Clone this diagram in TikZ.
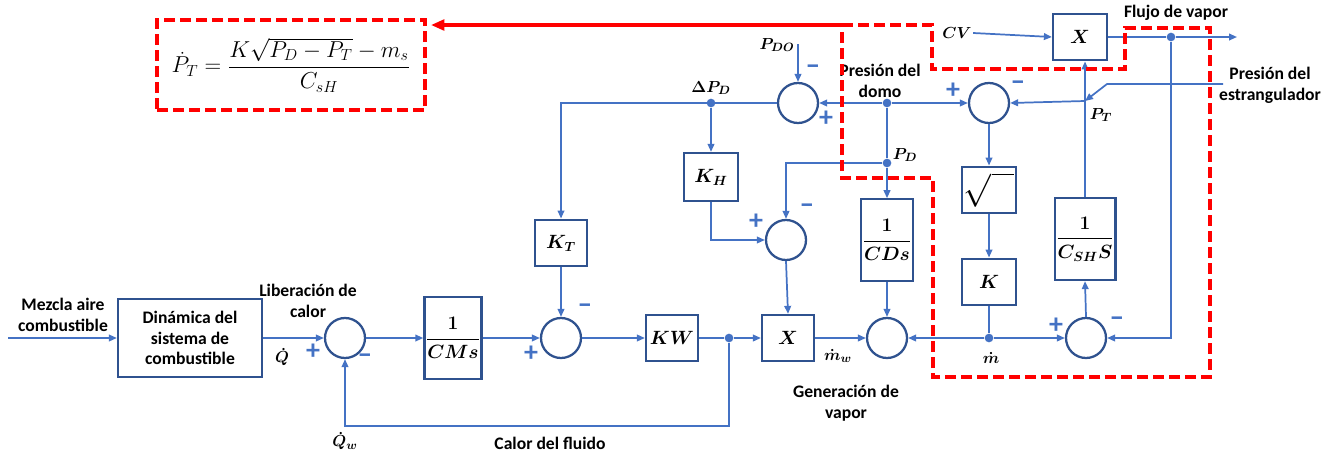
\documentclass[tikz,border=0pt]{standalone}
\usepackage{amsmath,amssymb}
\usepackage{fontspec}
\setmainfont{Carlito}
\usepackage{tikz}
\usetikzlibrary{arrows.meta,positioning,calc}
\definecolor{LineBlue}{RGB}{68,114,196}
\definecolor{BoxBlue}{RGB}{47,82,143}
\definecolor{DashRed}{RGB}{255,0,0}
\newcommand{\dsize}{\fontsize{13.2}{15.5}\selectfont}
\tikzset{
  blk/.style={draw=BoxBlue,line width=1.7pt,fill=white,font=\fontsize{13.8}{16}\selectfont\boldmath,align=center,inner sep=1pt},
  sumnode/.style={circle,draw=BoxBlue,line width=1.7pt,minimum size=30pt,inner sep=0pt},
  junc/.style={circle,fill=LineBlue,minimum size=6.5pt,inner sep=0pt},
  sig/.style={->,>={Triangle[length=6pt,width=5pt]},draw=LineBlue,line width=1.3pt},
  wire/.style={draw=LineBlue,line width=1.3pt},
  lbl/.style={font=\dsize\bfseries,align=center,inner sep=1pt},
  mlbl/.style={font=\dsize\boldmath,inner sep=1pt},
  plussign/.style={text=LineBlue,font=\fontsize{21}{21}\selectfont\bfseries,inner sep=0pt},
  minussign/.style={text=LineBlue,font=\fontsize{22}{22}\selectfont\bfseries,inner sep=0pt},
  reddash/.style={draw=DashRed,line width=3pt,dash pattern=on 8pt off 4pt},
  redarrow/.style={->,>={Triangle[length=10pt,width=8pt]},draw=DashRed,line width=2.4pt}
}
\begin{document}
\begin{tikzpicture}[x=0.75pt,y=-0.75pt]
\useasboundingbox (0,0) rectangle (1333,457);
% equation box
\node[reddash,minimum width=201pt,minimum height=67.5pt,font=\fontsize{17}{20}\selectfont] (eq) at (291,65) {$\dot{P}_T=\dfrac{K\sqrt{P_D-P_T}-m_s}{C_{sH}}$};
% main line
\node[blk,minimum width=108pt,minimum height=59pt,font=\dsize\bfseries] (fuel) at (190,338) {Dinámica del\\sistema de\\combustible};
\node[sumnode] (s1) at (345,338) {};
\node[blk,minimum width=39pt,minimum height=61.5pt] (cms) at (453,338) {$\dfrac{1}{CMs}$};
\node[sumnode] (s2) at (561,338) {};
\node[blk,minimum width=39pt,minimum height=35pt] (kt) at (561,243) {$K_T$};
\node[blk,minimum width=39pt,minimum height=34.5pt] (kw) at (672,338) {$KW$};
\node[junc] (jw) at (729,338) {};
\node[blk,minimum width=39pt,minimum height=34.5pt] (mx) at (788,338) {$X$};
\node[sumnode] (s3) at (887,338) {};
\node[blk,minimum width=38pt,minimum height=61pt] (cds) at (887,240) {$\dfrac{1}{CDs}$};
% drum pressure part
\node[sumnode] (s4) at (798,103) {};
\node[junc] (jdp) at (711,103) {};
\node[blk,minimum width=40pt,minimum height=36pt] (kh) at (711,177) {$K_H$};
\node[sumnode] (s5) at (786,240) {};
\node[junc] (jdomo) at (887,103) {};
\node[junc] (jpd) at (887,163) {};
% throttle part
\node[sumnode] (s6) at (989,103) {};
\node[blk,minimum width=40pt,minimum height=35pt,font=\fontsize{24}{24}\selectfont] (sq) at (989,190) {$\sqrt{\rule{0pt}{12pt}\rule{17pt}{0pt}}$};
\node[blk,minimum width=40pt,minimum height=35pt] (kk) at (989,282) {$K$};
\node[junc] (jm) at (989,338) {};
\node[sumnode] (s7) at (1086,338) {};
\node[blk,minimum width=40pt,minimum height=61.5pt] (csh) at (1085,239) {$\dfrac{1}{C_{SH}S}$};
\node[blk,minimum width=40.5pt,minimum height=35pt] (x2) at (1080,37) {$X$};
\node[junc] (jflow) at (1171,37) {};
\coordinate (fin) at (8,338);
\coordinate (fb) at (729,426);
\coordinate (pdin) at (798,44);
\coordinate (pt) at (1085,101);
\coordinate (est) at (1223,84);
\coordinate (estb) at (1107,84);
\coordinate (fout) at (1237,37);
% labels
\node[lbl] (lmix) at (63,315) {Mezcla aire\\combustible};
\node[lbl] (llib) at (308,301) {Liberación de\\calor};
\node[mlbl] (lq) at (282,357) {$\dot{Q}$};
\node[mlbl] (lqw) at (345,441) {$\dot{Q}_w$};
\node[lbl] (lcal) at (550,443) {Calor del fluido};
\node[lbl] (lgen) at (846,403) {Generación de\\vapor};
\node[mlbl] (lmw) at (838,356) {$\dot{m}_w$};
\node[mlbl] (ldp) at (711,88) {$\Delta P_D$};
\node[mlbl] (lpdo) at (777,45) {$P_{DO}$};
\node[lbl] (ldomo) at (880,81) {Presión del\\domo};
\node[mlbl] (lpd) at (905,155) {$P_D$};
\node[mlbl] (lpt) at (1101,115) {$P_T$};
\node[mlbl] (lcv) at (957,33) {$CV$};
\node[lbl] (lflujo) at (1176,13) {Flujo de vapor};
\node[lbl] (lest) at (1270,85) {Presión del\\estrangulador};
\node[mlbl] (lm) at (991,358) {$\dot{m}$};
% signs
\node[plussign] (p1) at (313,352) {+};
\node[minussign] (m1) at (365,359) {--};
\node[plussign] (p2) at (531,354) {+};
\node[minussign] (m2) at (585,309) {--};
\node[minussign] (m4) at (813,70) {--};
\node[plussign] (p4) at (826,119) {+};
\node[plussign] (p5) at (756,222) {+};
\node[minussign] (m5) at (807,209) {--};
\node[plussign] (p6) at (953,91) {+};
\node[minussign] (m6) at (1018,86) {--};
\node[plussign] (p7) at (1056,326) {+};
\node[minussign] (m7) at (1117,322) {--};
% connectors
\draw[sig] (fin) -- (fuel.west);
\draw[sig] (fuel.east) -- (s1.west);
\draw[sig] (s1.east) -- (cms.west);
\draw[sig] (cms.east) -- (s2.west);
\draw[sig] (s2.east) -- (kw.west);
\draw[wire] (kw.east) -- (jw);
\draw[sig] (jw) -- (mx.west);
\draw[sig] (jw) -- (fb) -| (s1.south);
\draw[sig] (mx.east) -- (s3.west);
\draw[sig] (cds.south) -- (s3.north);
\draw[sig] (jm) -- (s3.east);
\draw[sig] (jm) -- (s7.west);
\draw[wire] (kk.south) -- (jm);
\draw[sig] (sq.south) -- (kk.north);
\draw[sig] (s6.south) -- (sq.north);
\draw[sig] (jdomo) -- (s6.west);
\draw[sig] (jdomo) -- (s4.east);
\draw[wire] (jdomo) -- (jpd);
\draw[sig] (jpd) -- (cds.north);
\draw[sig] (jpd) -| (s5.north);
\draw[sig] (kh.south) |- (s5.west);
\draw[sig] (s5.south) -- (mx.north);
\draw[sig] (jdp) -- (kh.north);
\draw[sig] (s4.west) -| (kt.north);
\draw[sig] (kt.south) -- (s2.north);
\draw[sig] (pdin) -- (s4.north);
\draw[sig] (s7.north) -- (csh.south);
\draw[sig] (csh.north) -- (csh.north |- x2.south);
\draw[sig] (pt) -- (s6.east);
\draw[sig] (est) -- (estb) -- (pt);
\draw[sig] (lcv.east) -- (x2.west);
\draw[wire] (x2.east) -- (jflow);
\draw[sig] (jflow) -- (fout);
\draw[sig] (jflow) |- (s7.east);
% red frame and arrow
\coordinate (rtop) at (842,25);
\draw[reddash] (rtop) -- (932,25) -- (932,69) -- (1125,69) -- (1125,28) -- (1210,28) -- (1210,377) -- (933,377) -- (933,178) -- (842,178) -- cycle;
\draw[redarrow,shorten >=3pt] (rtop) -- (rtop -| eq.east);
\end{tikzpicture}
\end{document}
